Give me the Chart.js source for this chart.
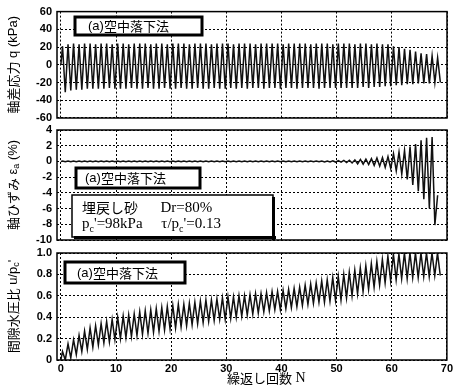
<!DOCTYPE html>
<html>
<head>
<meta charset="utf-8">
<title>CyclicTriaxialTest</title>
<style>
	body { margin: 0; background: #fff; }
	#wrap { position: relative; width: 455px; height: 385px; }
	#wrap canvas { position: absolute; left: 0; top: 0; }
</style>
<script src="https://cdn.jsdelivr.net/npm/chart.js"></script>
</head>
<body>
<div id="wrap">
	<canvas id="qChart" width="455" height="385"></canvas>
	<canvas id="strainChart" width="455" height="385"></canvas>
	<canvas id="ratioChart" width="455" height="385"></canvas>
</div>
<script>
// tick labels
const xTicks = [0, 10, 20, 30, 40, 50, 60, 70];
const qTicks = [-60, -40, -20, 0, 20, 40, 60];
const strainTicks = [-10, -8, -6, -4, -2, 0, 2, 4];
const ratioTicks = [0, 0.2, 0.4, 0.6, 0.8, 1];

// loading cycle number N
const cycleN = [
	0, 1, 2, 3, 4, 5, 6, 7, 8, 9,
	10, 11, 12, 13, 14, 15, 16, 17, 18, 19,
	20, 21, 22, 23, 24, 25, 26, 27, 28, 29,
	30, 31, 32, 33, 34, 35, 36, 37, 38, 39,
	40, 41, 42, 43, 44, 45, 46, 47, 48, 49,
	50, 51, 52, 53, 54, 55, 56, 57, 58, 59,
	60, 61, 62, 63, 64, 65, 66, 67, 68
];

// deviator stress q (kPa), max / min of each cycle
const qPeak = [
	21, 23, 24, 23, 24, 24, 23, 24, 24, 23,
	24, 24, 23, 24, 24, 24, 23, 24, 24, 23,
	24, 24, 24, 23, 24, 24, 24, 23, 24, 24,
	24, 23, 24, 24, 24, 23, 24, 24, 24, 24,
	23, 24, 24, 24, 24, 23, 24, 24, 24, 23,
	24, 24, 24, 23, 24, 24, 23, 24, 23, 23,
	21, 20, 18, 17, 15, 13, 12, 10, 8
];
const qTrough = [
	-31, -29, -28, -28, -27, -27, -27, -27, -26, -27,
	-27, -27, -26, -27, -27, -26, -27, -27, -26, -27,
	-27, -26, -27, -27, -26, -27, -27, -26, -27, -27,
	-26, -27, -26, -27, -26, -26, -27, -26, -26, -27,
	-26, -26, -27, -26, -26, -26, -27, -26, -26, -26,
	-26, -26, -26, -26, -25, -26, -25, -25, -24, -24,
	-23, -23, -22, -22, -21, -21, -21, -20, -20
];

// axial strain (%), max / min of each cycle
const strainPeak = [
	0.05, 0.05, 0.05, 0.05, 0.05, 0.05, 0.05, 0.05, 0.05, 0.05,
	0.05, 0.05, 0.05, 0.05, 0.05, 0.05, 0.05, 0.05, 0.05, 0.05,
	0.05, 0.05, 0.05, 0.05, 0.05, 0.05, 0.05, 0.05, 0.05, 0.05,
	0.05, 0.05, 0.05, 0.05, 0.05, 0.05, 0.05, 0.05, 0.05, 0.05,
	0.05, 0.05, 0.05, 0.05, 0.05, 0.05, 0.05, 0.06, 0.06, 0.08,
	0.1, 0.12, 0.15, 0.2, 0.25, 0.3, 0.35, 0.45, 0.5, 0.6,
	1.0, 1.2, 1.4, 1.9, 2.2, 2.7, 3.0, 3.1, -4.3
];
const strainTrough = [
	-0.05, -0.05, -0.05, -0.05, -0.05, -0.05, -0.05, -0.05, -0.05, -0.05,
	-0.05, -0.05, -0.05, -0.05, -0.05, -0.05, -0.05, -0.05, -0.05, -0.05,
	-0.05, -0.05, -0.05, -0.05, -0.05, -0.05, -0.05, -0.05, -0.05, -0.05,
	-0.05, -0.05, -0.05, -0.05, -0.05, -0.05, -0.05, -0.05, -0.05, -0.05,
	-0.05, -0.05, -0.05, -0.05, -0.05, -0.05, -0.05, -0.06, -0.07, -0.08,
	-0.1, -0.15, -0.2, -0.3, -0.35, -0.4, -0.5, -0.6, -0.75, -0.9,
	-1.2, -1.6, -2.3, -3.0, -3.8, -4.8, -6.0, -8.1, null
];

// pore pressure ratio u/pc', max / min of each cycle
const ratioPeak = [
	0.08, 0.15, 0.19, 0.23, 0.27, 0.30, 0.32, 0.34, 0.36, 0.38,
	0.40, 0.41, 0.42, 0.43, 0.45, 0.46, 0.47, 0.48, 0.49, 0.50,
	0.51, 0.52, 0.52, 0.53, 0.54, 0.55, 0.56, 0.56, 0.57, 0.58,
	0.59, 0.59, 0.60, 0.60, 0.61, 0.62, 0.62, 0.63, 0.64, 0.64,
	0.65, 0.66, 0.67, 0.68, 0.70, 0.71, 0.72, 0.74, 0.75, 0.77,
	0.78, 0.80, 0.82, 0.84, 0.86, 0.88, 0.90, 0.92, 0.94, 0.97,
	0.99, 0.99, 1.0, 1.0, 1.0, 1.0, 1.0, 1.0, 1.0
];
const ratioTrough = [
	0.00, 0.02, 0.05, 0.08, 0.10, 0.12, 0.14, 0.16, 0.17, 0.19,
	0.20, 0.21, 0.22, 0.23, 0.24, 0.25, 0.26, 0.27, 0.28, 0.29,
	0.30, 0.31, 0.32, 0.33, 0.34, 0.35, 0.36, 0.37, 0.38, 0.38,
	0.39, 0.40, 0.41, 0.42, 0.43, 0.44, 0.45, 0.46, 0.47, 0.47,
	0.48, 0.49, 0.50, 0.51, 0.52, 0.53, 0.54, 0.54, 0.55, 0.56,
	0.56, 0.58, 0.60, 0.62, 0.64, 0.66, 0.68, 0.70, 0.72, 0.74,
	0.75, 0.76, 0.76, 0.77, 0.77, 0.78, 0.78, 0.79, 0.79
];

const SANS = '"Liberation Sans", Arial, "Noto Sans CJK JP", sans-serif';
const SERIF = '"Liberation Serif", "Noto Sans CJK JP", serif';

Chart.defaults.font.family = SANS;
Chart.defaults.color = '#000';

// peak early in the cycle, trough late in the cycle
function toPoints(peaks, troughs) {
	const pts = [{ x: 0, y: 0 }];
	cycleN.forEach((n, i) => {
		if (peaks[i] != null) pts.push({ x: n + 0.3, y: peaks[i] });
		if (troughs[i] != null) pts.push({ x: n + 0.8, y: troughs[i] });
	});
	return pts;
}

// text made of pieces (for subscripts), drawn along the baseline
function drawPieces(ctx, pieces, x, y, align) {
	let total = 0;
	pieces.forEach(p => { ctx.font = p.f; p.w = ctx.measureText(p.t).width; total += p.w; });
	let cx = align === 'center' ? x - total / 2 : x;
	ctx.fillStyle = '#000';
	ctx.textBaseline = 'middle';
	ctx.textAlign = 'left';
	pieces.forEach(p => {
		ctx.font = p.f;
		ctx.fillText(p.t, cx, y + (p.dy || 0));
		cx += p.w;
	});
}

function drawBox(ctx, b) {
	ctx.save();
	ctx.fillStyle = '#fff';
	ctx.fillRect(b.x, b.y, b.w, b.h);
	ctx.strokeStyle = '#000';
	ctx.lineWidth = b.lw;
	ctx.strokeRect(b.x, b.y, b.w, b.h);
	if (b.shadow) {
		ctx.fillStyle = '#000';
		ctx.fillRect(b.x + b.w - 1, b.y + 2, 3, b.h + 1);
		ctx.fillRect(b.x + 2, b.y + b.h - 1, b.w + 1, 3);
	}
	b.lines.forEach(l => drawPieces(ctx, l.pieces, l.x, l.y, 'left'));
	ctx.restore();
}

function decor(cfg) {
	return {
		id: 'decor',
		afterDraw(chart) {
			const ctx = chart.ctx, a = chart.chartArea;
			ctx.save();
			ctx.strokeStyle = '#000';
			ctx.lineWidth = 1.5;
			ctx.strokeRect(a.left, a.top, a.right - a.left, a.bottom - a.top);
			ctx.translate(13, (a.top + a.bottom) / 2);
			ctx.rotate(-Math.PI / 2);
			drawPieces(ctx, cfg.yLabel, 0, 0, 'center');
			ctx.restore();
			cfg.boxes.forEach(b => drawBox(ctx, b));
			if (cfg.xTitle) {
				ctx.save();
				drawPieces(ctx, cfg.xTitle, 227, 378, 'left');
				ctx.restore();
			}
		}
	};
}

const methodLabel = [
	{ t: '(a)', f: '13px ' + SANS },
	{ t: '空中落下法', f: '13px "Noto Sans CJK JP"' }
];

function makePanel(id, points, yMin, yMax, yTicks, padTop, padBottom, showX, cfg) {
	return new Chart(document.getElementById(id), {
		type: 'line',
		data: {
			datasets: [{
				data: points,
				borderColor: '#111',
				borderWidth: 1.5,
				pointRadius: 0,
				tension: 0,
				fill: false
			}]
		},
		options: {
			responsive: false,
			animation: false,
			layout: { padding: { left: 0, right: 8, top: padTop, bottom: padBottom } },
			plugins: { legend: { display: false }, tooltip: { enabled: false } },
			scales: {
				x: {
					type: 'linear',
					min: -0.7,
					max: 70,
					afterBuildTicks: s => { s.ticks = xTicks.map(v => ({ value: v })); },
					afterFit: s => { s.height = showX ? 25 : 0; },
					ticks: { display: showX, autoSkip: false, padding: 2, maxRotation: 0, font: { size: 11, weight: 'bold' } },
					grid: { color: '#000', lineWidth: 1, drawTicks: false },
					border: { display: false, dash: [2, 2] }
				},
				y: {
					min: yMin,
					max: yMax,
					afterBuildTicks: s => { s.ticks = yTicks.map(v => ({ value: v })); },
					afterFit: s => { s.width = 57; },
					ticks: { autoSkip: false, padding: 5, font: { size: 11, weight: 'bold' } },
					grid: { color: '#000', lineWidth: 1, drawTicks: false },
					border: { display: false, dash: [2, 2] }
				}
			}
		},
		plugins: [decor(cfg)]
	});
}

makePanel('qChart', toPoints(qPeak, qTrough), -60, 60, qTicks, 10, 267, false, {
	yLabel: [
		{ t: '軸差応力', f: '13px "Noto Sans CJK JP"' },
		{ t: ' q (kPa)', f: '13px ' + SANS }
	],
	boxes: [
		{ x: 75, y: 17, w: 127, h: 18, lw: 3, lines: [{ x: 88, y: 26, pieces: methodLabel }] }
	]
});

makePanel('strainChart', toPoints(strainPeak, strainTrough), -10, 4, strainTicks, 130, 145, false, {
	yLabel: [
		{ t: '軸ひずみ', f: '13px "Noto Sans CJK JP"' },
		{ t: ' ε', f: '13px ' + SANS },
		{ t: 'a', f: '9px ' + SANS, dy: 4 },
		{ t: ' (%)', f: '13px ' + SANS }
	],
	boxes: [
		{ x: 76, y: 168, w: 124, h: 20, lw: 3, lines: [{ x: 85, y: 178, pieces: methodLabel }] },
		{ x: 72, y: 195, w: 201, h: 42, lw: 1.5, shadow: true, lines: [
			{ x: 82, y: 208, pieces: [
				{ t: '埋戻し砂', f: '14px "Noto Sans CJK JP"' },
				{ t: '      Dr=80%', f: '15px ' + SERIF }
			] },
			{ x: 82, y: 224, pieces: [
				{ t: 'p', f: '15px ' + SERIF },
				{ t: 'c', f: '10px ' + SERIF, dy: 5 },
				{ t: '\'=98kPa     τ/p', f: '15px ' + SERIF },
				{ t: 'c', f: '10px ' + SERIF, dy: 5 },
				{ t: '\'=0.13', f: '15px ' + SERIF }
			] }
		] }
	]
});

makePanel('ratioChart', toPoints(ratioPeak, ratioTrough), 0, 1, ratioTicks, 253, 0, true, {
	yLabel: [
		{ t: '間隙水圧比', f: '13px "Noto Sans CJK JP"' },
		{ t: ' u/p', f: '13px ' + SANS },
		{ t: 'c', f: '9px ' + SANS, dy: 4 },
		{ t: '\'', f: '13px ' + SANS }
	],
	boxes: [
		{ x: 65, y: 262, w: 120, h: 21, lw: 3, lines: [{ x: 77, y: 273, pieces: methodLabel }] }
	],
	xTitle: [
		{ t: '繰返し回数', f: '13px "Noto Sans CJK JP"' },
		{ t: ' N', f: '14px ' + SERIF }
	]
});
</script>
</body>
</html>
